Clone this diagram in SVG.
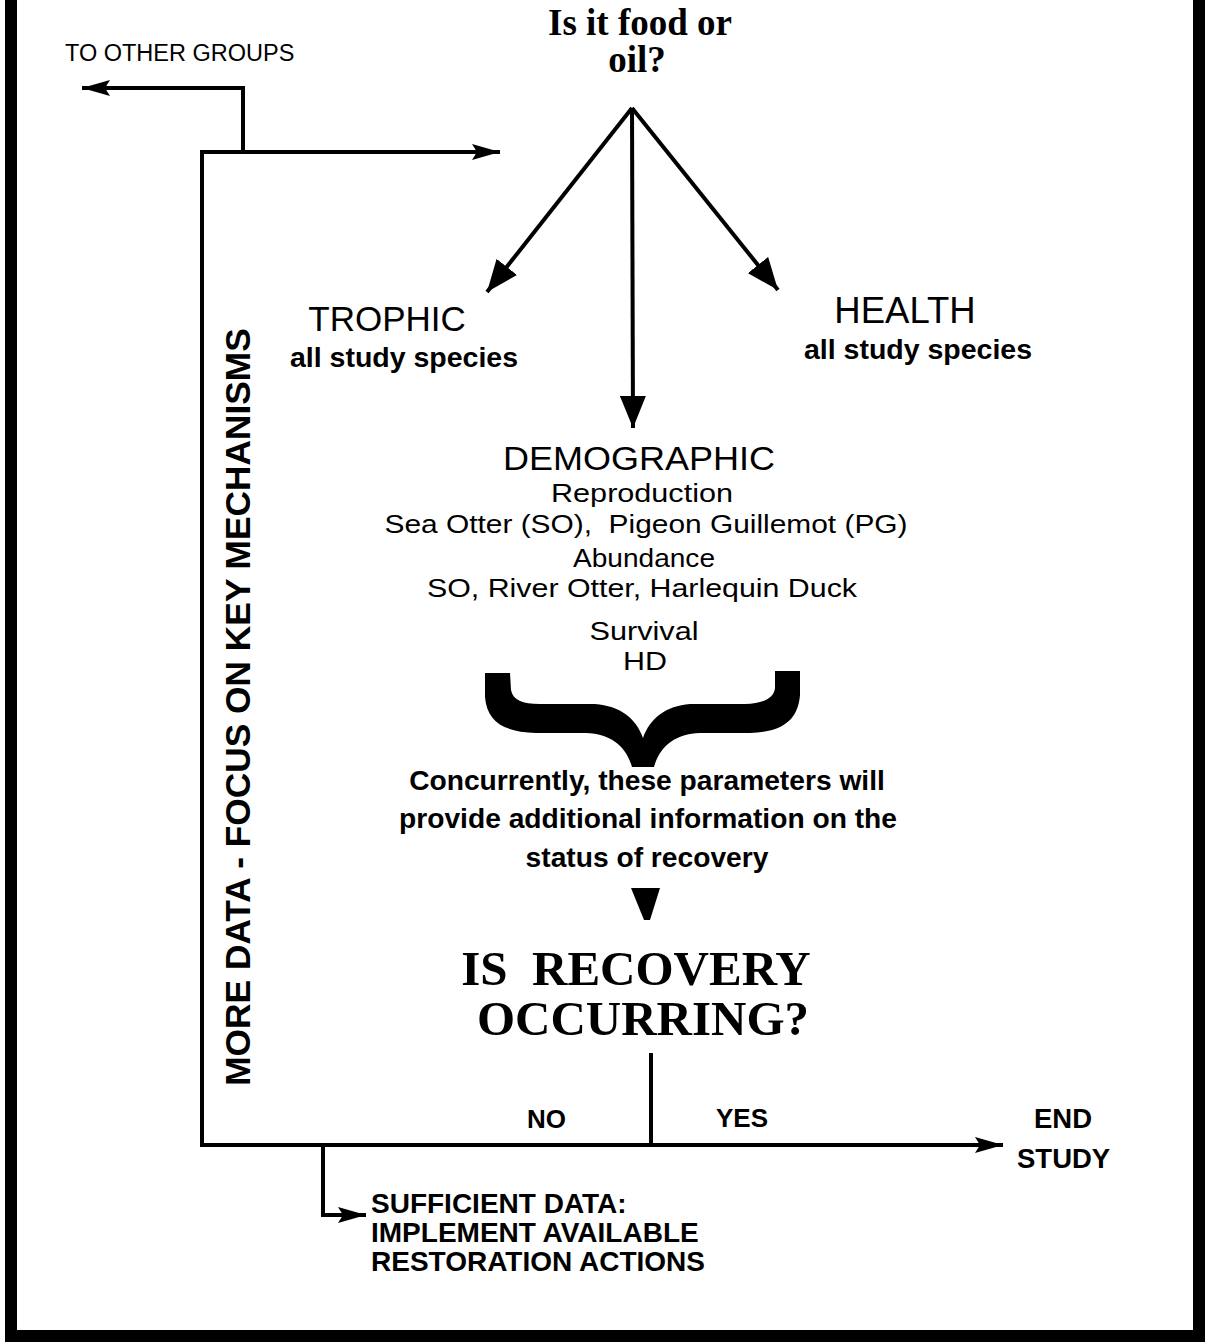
<svg xmlns="http://www.w3.org/2000/svg" width="1214" height="1342" viewBox="0 0 1214 1342">
<style>
.s{font-family:"Liberation Sans",Arial,sans-serif;fill:#000}
.b{font-weight:bold}
.t{font-family:"Liberation Serif","Times New Roman",serif;font-weight:bold;fill:#000}
.c{text-anchor:middle}
.ln{fill:none;stroke:#000;stroke-width:4;stroke-linejoin:miter}
</style>
<defs>
<marker id="big" markerUnits="userSpaceOnUse" markerWidth="34" markerHeight="26" refX="32" refY="13" orient="auto">
<path d="M0,0 L32,13 L0,26 Z" fill="#000"/>
</marker>
<marker id="sm" markerUnits="userSpaceOnUse" markerWidth="30" markerHeight="18" refX="28" refY="9" orient="auto">
<path d="M0,1 L28,9 L0,17 L5,9 Z" fill="#000"/>
</marker>
</defs>
<rect width="1214" height="1342" fill="#fff"/>
<path d="M11,0 V1336 H1199 V0" fill="none" stroke="#000" stroke-width="12"/>

<g id="connectors">
<path class="ln" d="M651,1145 H202 V152 H500" marker-end="url(#sm)"/>
<path class="ln" d="M649,1145 H1003" marker-end="url(#sm)"/>
<path class="ln" d="M243,152 V88 H82" marker-end="url(#sm)"/>
<path class="ln" d="M651,1053 V1145"/>
<path class="ln" d="M323,1145 V1215 H366" marker-end="url(#sm)"/>
<path class="ln" d="M632,108 L487,292" marker-end="url(#big)"/>
<path class="ln" d="M632,108 L778,290" marker-end="url(#big)"/>
<path class="ln" d="M632,108 L633,428" marker-end="url(#big)"/>
<polygon points="631,888 660,888 650,920 644,920" fill="#000"/>
</g>

<g id="question">
<text class="t c" font-size="37" x="640" y="35">Is it food or</text>
<text class="t c" font-size="37" x="637" y="72">oil?</text>
</g>

<g id="other-groups">
<text class="s" font-size="23.5" x="65" y="61">TO OTHER GROUPS</text>
</g>

<g id="trophic">
<text class="s c" font-size="35" x="387" y="331">TROPHIC</text>
<text class="s b c" font-size="28.5" x="404" y="367">all study species</text>
</g>

<g id="health">
<text class="s c" font-size="36.5" x="905" y="323">HEALTH</text>
<text class="s b c" font-size="28.5" x="918" y="359">all study species</text>
</g>

<g id="demographic">
<text class="s c" font-size="34" x="639" y="470" textLength="272" lengthAdjust="spacingAndGlyphs">DEMOGRAPHIC</text>
<text class="s c" font-size="26" x="642" y="502" textLength="182" lengthAdjust="spacingAndGlyphs">Reproduction</text>
<text class="s c" font-size="26" x="646" y="533" textLength="523" lengthAdjust="spacingAndGlyphs" xml:space="preserve">Sea Otter (SO),  Pigeon Guillemot (PG)</text>
<text class="s c" font-size="26" x="644" y="567" textLength="142" lengthAdjust="spacingAndGlyphs">Abundance</text>
<text class="s c" font-size="26" x="642" y="597" textLength="430" lengthAdjust="spacingAndGlyphs">SO, River Otter, Harlequin Duck</text>
<text class="s c" font-size="26" x="644" y="640" textLength="109" lengthAdjust="spacingAndGlyphs">Survival</text>
<text class="s c" font-size="26" x="645" y="670" textLength="44" lengthAdjust="spacingAndGlyphs">HD</text>
</g>

<g id="brace">
<path d="M485,673 L510,673 L511,690 C513,700 522,704 540,704 L595,704 C620,706 636,718 643,738 C650,718 666,706 690,704 L745,704 C763,704 774,698 775,688 L775,671 L800,671 L800,695 C798,722 780,732 750,733 L700,733 C675,734 660,746 654,767 L632,767 C626,746 611,734 586,733 L536,733 C504,732 487,722 485,697 Z" fill="#000"/>
</g>

<g id="concurrently">
<text class="s b c" font-size="28.2" x="647" y="790">Concurrently, these parameters will</text>
<text class="s b c" font-size="28.2" x="648" y="828">provide additional information on the</text>
<text class="s b c" font-size="28.2" x="647" y="867">status of recovery</text>
</g>

<g id="recovery">
<text class="t c" font-size="49" x="636" y="985" xml:space="preserve">IS  RECOVERY</text>
<text class="t c" font-size="49" x="643" y="1035">OCCURRING?</text>
</g>

<g id="more-data">
<text class="s b c" font-size="35.3" transform="translate(250,707) rotate(-90)">MORE DATA - FOCUS ON KEY MECHANISMS</text>
</g>

<g id="no"><text class="s b" font-size="26" x="527" y="1128">NO</text></g>
<g id="yes"><text class="s b" font-size="26" x="716" y="1127">YES</text></g>

<g id="end-study">
<text class="s b" font-size="27.5" x="1034" y="1128">END</text>
<text class="s b" font-size="27.5" x="1017" y="1168">STUDY</text>
</g>

<g id="sufficient">
<text class="s b" font-size="28" x="371" y="1213">SUFFICIENT DATA:</text>
<text class="s b" font-size="28" x="371" y="1242">IMPLEMENT AVAILABLE</text>
<text class="s b" font-size="28" x="371" y="1271">RESTORATION ACTIONS</text>
</g>
</svg>
